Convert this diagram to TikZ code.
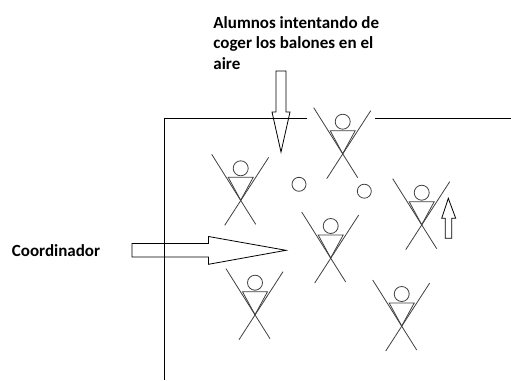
\documentclass[tikz,border=0pt]{standalone}
\usepackage{fontspec}
\setmainfont{Carlito}
\usetikzlibrary{positioning}

\tikzset{
    cuerpo/.style={draw=black!75,line width=0.8pt},
    balon/.style={circle,draw=black!75,line width=0.8pt,minimum size=14pt,inner sep=0pt},
    rotulo/.style={font=\bfseries\fontsize{17}{20.5}\selectfont,align=left,inner sep=0pt},
    alumno/.pic={
        \draw[cuerpo] (0,0) circle (7.5pt);
        \draw[cuerpo] (-12.5,9) -- (12.5,9) -- (0,32) -- cycle;
        \draw[cuerpo] (-29,-14) -- (15,56);
        \draw[cuerpo] (28,-11) -- (-16,57);
    }
}

\begin{document}
\begin{tikzpicture}[x=1pt,y=-1pt,line width=0.8pt]
            \useasboundingbox (0,0) rectangle (511,380);
            % \draw[help lines,step=50] (0,0) grid (511,380);

            \node[rotulo,anchor=base west] (alumnos) at (213,69) {Alumnos intentando de\\coger los balones en el\\aire};
            \node[rotulo,anchor=base west] (coordinador) at (11.5,256) {Coordinador};

            % pista
            \draw (307.3,118.3) -- (164,118.3) -- (164,380);
            \draw (375,118.3) -- (511,118.3);

            % flechas
            \draw (276,71) -- ++(10,0) -- ++(0,41) -- ++(4,0) -- (281,152) -- (272,112) -- ++(4,0) -- cycle;
            \draw (132,243.5) -- ++(76.5,0) -- ++(0,-7) -- (286,250.3) -- (208.5,264.3) -- ++(0,-7.3) -- ++(-76.5,0) -- cycle;
            \draw (445.3,238.3) -- ++(0,-20) -- ++(-3.6,0) -- (448.3,198.3) -- (455.7,218.3) -- ++(-4,0) -- ++(0,20) -- cycle;

            % alumnos
            \pic (a1) at (342.7,121.7) {alumno};
            \pic (a2) at (240.7,168.3) {alumno};
            \pic (a3) at (330.7,226) {alumno};
            \pic (a4) at (421.7,192.7) {alumno};
            \pic (a5) at (255,282.7) {alumno};
            \pic (a6) at (401.7,294) {alumno};

            \node[balon] (balon1) at (299,184.3) {};
            \node[balon] (balon2) at (364.3,191.2) {};
        \end{tikzpicture}
\end{document}
